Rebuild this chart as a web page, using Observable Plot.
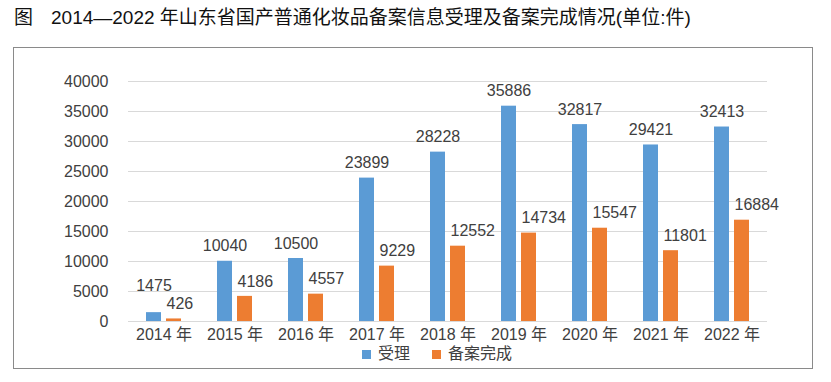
<!DOCTYPE html>
<html>
<head>
<meta charset="utf-8">
<script src="https://cdn.jsdelivr.net/npm/d3@7"></script>
<script src="https://cdn.jsdelivr.net/npm/@observablehq/plot@0.6"></script>
<style>
  body { margin: 0; background: #fff; width: 831px; height: 382px; position: relative; overflow: hidden;
         font-family: "Liberation Sans", "Noto Sans CJK SC", sans-serif; }
  #title { position: absolute; left: 14px; top: 6px; font-size: 19px; line-height: 24px; color: #111;
           white-space: nowrap; font-weight: 400; }
  #title .fig { margin-right: 18px; }
  #box { position: absolute; left: 13px; top: 47px; width: 800px; height: 322px; box-sizing: border-box;
         border: 1.5px solid #8a8a8a; }
  #chart { position: absolute; left: 15px; top: 49px; }
  #legend { position: absolute; left: 362px; top: 344px; font-size: 16px; line-height: 20px; color: #404040;
            display: flex; align-items: center; white-space: nowrap; }
  #legend .sw { display: inline-block; width: 9px; height: 9px; margin-right: 7px; }
  #legend .item { display: flex; align-items: center; margin-right: 22px; }
</style>
</head>
<body>
<div id="title"><span class="fig">图</span>2014—2022 年山东省国产普通化妆品备案信息受理及备案完成情况(单位:件)</div>
<div id="box"></div>
<div id="chart"></div>
<div id="legend"></div>
<script>
const years = ["2014 年", "2015 年", "2016 年", "2017 年", "2018 年", "2019 年", "2020 年", "2021 年", "2022 年"];
const seriesNames = ["受理", "备案完成"];
const accepted = [1475, 10040, 10500, 23899, 28228, 35886, 32817, 29421, 32413];
const completed = [426, 4186, 4557, 9229, 12552, 14734, 15547, 11801, 16884];
const yTicks = [0, 5000, 10000, 15000, 20000, 25000, 30000, 35000, 40000];
const colors = ["#5B9BD5", "#ED7D31"];

const yMax = 40000;
const plotH = 240; // pixel height of the y range
const pxToData = yMax / plotH;

const data = [];
years.forEach((y, i) => {
  data.push({year: y, series: seriesNames[0], value: accepted[i]});
  data.push({year: y, series: seriesNames[1], value: completed[i]});
});

// simple label collision avoidance: keep the first series' label at least 18px above the second's
const labelPos = (d) => {
  if (d.series !== seriesNames[0]) return d.value;
  const i = years.indexOf(d.year);
  return Math.max(d.value, completed[i] + 18 * pxToData);
};

const chart = Plot.plot({
  width: 796,
  height: 300,
  marginLeft: 113,
  marginRight: 44,
  marginTop: 32,
  marginBottom: 28,
  style: {fontFamily: '"Liberation Sans", "Noto Sans CJK SC", sans-serif', fontSize: "16px", color: "#404040", background: "transparent"},
  fx: {domain: years, padding: 0, axis: "bottom", label: null, tickSize: 0, tickPadding: 7},
  x: {domain: seriesNames, paddingInner: 0.25, paddingOuter: 0.9, axis: null},
  y: {domain: [0, yMax], ticks: yTicks, label: null, tickSize: 0, tickPadding: 20, tickFormat: d => String(d)},
  color: {domain: seriesNames, range: colors},
  marks: [
    Plot.ruleY(yTicks, {stroke: "#d9d9d9", strokeWidth: 1}),
    Plot.barY(data, {fx: "year", x: "series", y: "value", fill: "series"}),
    Plot.text(data.filter(d => d.series === seriesNames[0]), {fx: "year", x: "series", y: labelPos, text: d => String(d.value), dy: -15, textAnchor: "middle", fill: "#404040"}),
    Plot.text(data.filter(d => d.series === seriesNames[1]), {fx: "year", x: "series", y: labelPos, text: d => String(d.value), dy: -15, dx: -7.5, textAnchor: "start", fill: "#404040"})
  ]
});
document.getElementById("chart").appendChild(chart);

const legend = document.getElementById("legend");
seriesNames.forEach((s, i) => {
  const item = document.createElement("span");
  item.className = "item";
  const sw = document.createElement("span");
  sw.className = "sw";
  sw.style.background = colors[i];
  item.appendChild(sw);
  item.appendChild(document.createTextNode(s));
  legend.appendChild(item);
});
</script>
</body>
</html>
